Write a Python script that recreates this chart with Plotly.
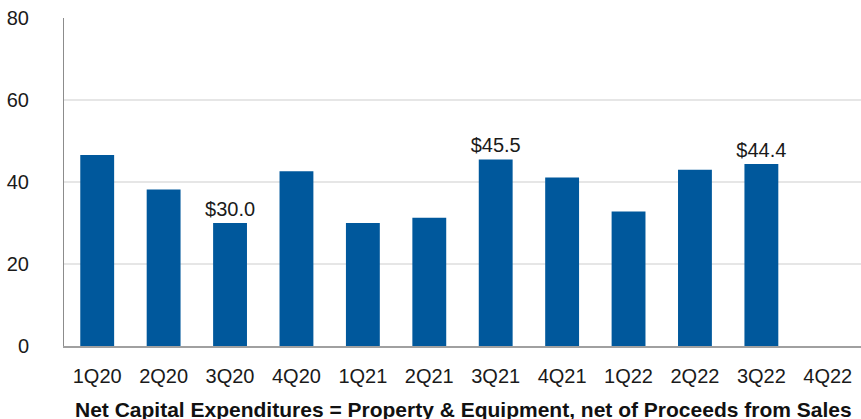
import plotly.graph_objects as go

quarters = ["1Q20", "2Q20", "3Q20", "4Q20", "1Q21", "2Q21",
            "3Q21", "4Q21", "1Q22", "2Q22", "3Q22", "4Q22"]
net_capex = [46.6, 38.2, 30.0, 42.6, 30.0, 31.3,
             45.5, 41.1, 32.8, 43.0, 44.4, None]
bar_labels = ["", "", "$30.0", "", "", "",
              "$45.5", "", "", "", "$44.4", ""]
y_ticks = [0, 20, 40, 60, 80]

FONT = "Liberation Sans, Arial, sans-serif"

fig = go.Figure()
fig.add_trace(
    go.Bar(
        x=quarters,
        y=net_capex,
        text=bar_labels,
        textposition="outside",
        constraintext="none",
        cliponaxis=False,
        textfont={"family": FONT, "size": 20, "color": "#1a1a1a"},
        marker={"color": "#00589C", "line": {"width": 0}},
        hoverinfo="skip",
    )
)

# subtitle sits mostly above the visible area, as in the source slide
fig.add_annotation(
    text="($ in millions)",
    xref="paper", yref="paper",
    x=0.496, y=1 + 17.5 / 328,
    xanchor="center", yanchor="bottom",
    showarrow=False,
    font={"family": FONT, "size": 22, "color": "#1a1a1a"},
)
fig.add_annotation(
    text="<b>Net Capital Expenditures = Property & Equipment, net of Proceeds from Sales</b>",
    xref="paper", yref="paper",
    x=(463 - 64) / 797, y=-63 / 328,
    xanchor="center", yanchor="middle",
    showarrow=False,
    font={"family": FONT, "size": 21, "color": "#111111"},
)

fig.update_layout(
    width=861,
    height=419,
    margin={"l": 64, "r": 0, "t": 18, "b": 73, "autoexpand": False},
    paper_bgcolor="white",
    plot_bgcolor="white",
    showlegend=False,
    bargap=0.49,
    font={"family": FONT, "color": "#1a1a1a"},
    xaxis={
        "automargin": False,
        "showline": True,
        "linecolor": "#a0a0a0",
        "linewidth": 2,
        "showgrid": False,
        "ticks": "",
        "tickfont": {"size": 20},
        "ticklabelstandoff": 11,
    },
    yaxis={
        "automargin": False,
        "range": [0, 80],
        "tickvals": y_ticks,
        "showline": True,
        "linecolor": "#8c8c8c",
        "linewidth": 1,
        "showgrid": True,
        "gridcolor": "#e6e6e6",
        "gridwidth": 2,
        "zeroline": False,
        "ticks": "",
        "tickfont": {"size": 20},
        "ticklabelstandoff": 30,
    },
)

# the default page has an 8px body margin; drop it so the figure sits at 0,0
fig.write_html(
    "out.html",
    config={"displayModeBar": False},
    post_script="document.body.style.margin='0';document.body.style.overflow='hidden';",
)
